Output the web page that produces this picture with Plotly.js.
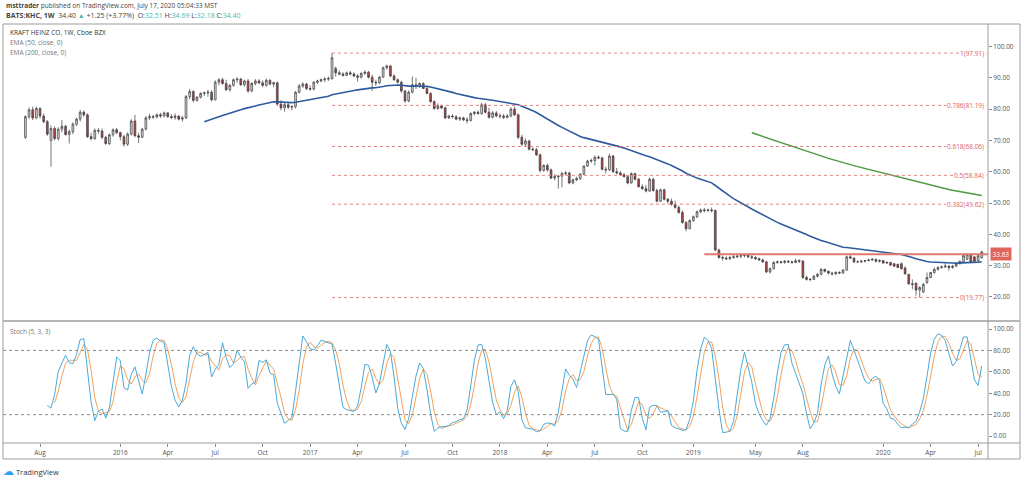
<!DOCTYPE html>
<html><head><meta charset="utf-8">
<script src="https://cdn.plot.ly/plotly-3.0.1.min.js"></script>
<style>html,body{margin:0;padding:0;background:#fff}#chart{width:1024px;height:480px}</style>
</head><body><div id="chart"></div>
<script>
// Weekly bars, first bar week of 2015-07-06
const firstWeek = '2015-07-06';
const open = [71.0,77.6,79.8,77.2,80.2,77.8,76.0,70.0,73.8,70.6,73.6,74.5,71.9,72.8,75.2,76.8,79.0,78.2,71.2,70.6,73.2,73.0,71.0,69.0,71.8,73.4,
72.5,71.2,68.8,72.0,76.2,71.5,71.0,73.6,77.2,77.6,77.5,78.2,77.8,78.8,77.6,77.3,77.8,76.8,77.2,84.0,85.6,82.8,83.8,85.0,85.2,85.4,83.0,88.6,89.4,88.2,86.2,87.6,89.4,89.6,87.8,89.0,85.8,88.2,89.0,88.4,87.6,89.2,88.0,88.4,81.6,80.4,81.4,80.6,80.8,85.4,87.4,88.0,
86.6,86.4,88.6,89.0,89.4,89.6,89.8,93.0,91.6,91.2,90.8,91.6,91.2,90.6,90.2,91.4,91.8,90.2,88.6,88.4,90.2,93.2,93.8,90.6,89.4,88.6,85.8,82.6,85.4,87.8,87.2,88.2,86.6,85.0,82.4,80.2,81.0,80.4,77.2,77.8,77.6,76.8,77.2,76.6,76.4,78.6,79.0,78.6,81.4,79.0,77.4,78.8,
77.8,77.8,77.4,77.8,80.0,78.2,71.0,68.8,69.8,67.2,67.0,65.4,60.4,62.0,60.6,58.0,58.4,58.6,59.4,59.6,56.4,57.4,57.8,59.2,61.8,63.4,63.6,64.6,64.4,60.8,60.6,65.0,60.0,59.6,59.0,58.4,56.4,59.4,57.6,55.2,54.6,53.8,57.6,54.0,50.6,54.2,51.2,50.6,49.6,48.6,47.0,43.8,41.8,
44.4,45.6,47.2,47.8,47.6,47.8,47.6,35.0,32.6,32.4,32.2,32.6,32.8,33.0,33.2,33.4,32.8,32.6,32.2,31.8,31.2,28.0,29.0,31.0,31.2,31.0,31.4,31.2,31.0,31.6,31.4,26.2,25.6,25.6,26.6,27.2,28.8,28.2,27.6,27.4,27.8,27.6,28.6,32.8,32.4,31.2,31.2,31.4,31.6,31.8,32.0,31.4,
31.6,30.8,31.0,30.6,30.4,30.6,29.2,27.2,24.2,24.4,22.2,21.6,24.6,26.2,27.8,28.8,29.4,29.6,29.8,29.4,29.8,30.6,31.2,32.0,33.5,32.8,31.6,32.51];
const high = [78.0,80.5,80.8,80.8,80.6,78.6,76.5,74.8,74.5,74.2,76.5,75.0,73.5,75.8,77.2,79.8,79.6,78.6,72.5,73.8,74.0,73.8,71.5,72.2,73.8,74.0,
72.8,71.8,72.6,76.8,78.2,72.5,74.0,77.8,78.5,78.2,78.6,78.8,79.2,79.0,78.4,78.6,78.0,77.8,84.5,86.5,86.0,84.2,85.4,85.6,86.2,86.0,89.2,89.8,90.0,89.4,88.0,89.8,90.2,90.0,89.4,89.6,88.6,89.6,89.6,89.2,89.8,89.6,88.8,88.8,82.8,82.0,82.2,81.2,85.8,88.0,88.6,88.4,
87.6,89.0,89.4,89.8,90.2,90.4,97.91,93.6,92.4,91.8,92.0,92.2,91.8,91.2,91.8,92.4,92.2,91.0,89.4,90.6,93.6,94.2,94.0,91.2,89.8,89.0,86.2,86.0,90.4,90.0,88.6,88.6,87.0,85.4,82.8,81.8,81.4,80.8,78.2,78.4,78.0,77.6,77.6,77.4,79.0,79.4,79.6,82.0,82.0,80.4,79.4,79.4,
78.6,78.4,78.4,80.6,80.8,78.6,71.8,70.6,70.2,67.8,67.6,65.8,62.4,62.6,61.0,59.2,58.8,60.0,60.2,60.0,57.8,58.4,59.6,62.0,63.8,64.2,65.2,65.2,64.8,61.6,65.8,65.4,61.2,60.2,59.6,58.8,59.8,59.6,58.0,56.0,55.8,58.2,58.0,54.6,54.6,54.6,51.6,51.4,50.8,49.2,47.6,44.2,44.8,
46.0,47.6,48.2,48.4,48.2,48.6,48.0,35.4,33.2,33.0,33.0,33.4,33.4,33.6,33.8,33.6,33.4,33.0,32.6,32.2,31.4,29.4,31.4,31.6,31.6,31.8,31.8,31.6,32.2,32.0,31.8,26.8,26.0,27.0,27.6,29.2,29.0,28.4,28.0,28.2,28.2,28.8,33.2,33.4,32.6,31.6,31.8,31.8,32.2,32.4,32.2,32.0,
31.8,31.4,31.2,30.8,30.6,31.0,29.8,27.4,25.6,24.6,23.4,24.4,27.8,28.0,29.4,29.8,30.0,30.8,30.2,30.2,30.8,31.6,33.6,33.9,33.8,33.0,33.4,34.69];
const low = [70.5,76.8,76.5,76.8,77.0,75.5,71.5,61.6,70.0,70.0,72.6,71.5,69.0,72.0,74.5,76.0,77.5,70.8,70.0,70.2,72.2,70.4,68.6,68.5,71.2,72.0,
70.0,68.0,68.2,71.6,71.0,69.2,70.8,73.2,76.5,76.8,77.0,77.2,77.4,77.2,76.8,76.6,76.4,76.0,76.8,83.2,82.2,82.4,83.4,84.2,84.0,82.5,82.8,87.6,87.8,85.8,85.6,87.2,88.4,87.4,87.2,85.2,85.4,87.6,88.0,87.0,87.2,87.6,87.0,81.0,79.6,79.2,80.0,79.6,80.2,85.0,86.8,86.0,
85.8,86.0,88.0,88.6,88.6,89.0,89.4,90.4,90.8,90.4,90.6,90.8,90.2,88.8,89.8,91.0,89.8,85.8,87.4,88.0,90.0,92.6,90.2,89.0,88.2,85.2,82.0,82.2,85.0,86.4,86.8,86.4,84.8,82.0,79.8,79.8,80.0,76.8,76.8,77.0,76.4,76.2,76.2,75.4,76.0,78.0,78.2,78.2,78.6,77.0,77.0,77.4,
77.0,76.8,77.0,77.4,77.8,70.4,68.2,68.2,66.8,66.6,65.0,59.8,60.0,60.0,57.6,57.2,54.6,55.0,58.8,56.0,56.0,57.0,57.4,59.0,61.6,62.8,62.0,64.0,60.4,59.4,60.2,59.6,59.2,58.6,58.2,56.0,56.2,57.2,55.0,54.2,53.4,53.6,53.6,50.2,50.4,50.8,49.8,49.2,48.2,46.6,43.4,41.0,41.6,
44.0,45.2,46.8,47.0,47.2,47.0,34.6,32.2,31.6,31.8,31.8,32.2,32.4,32.4,32.6,32.4,32.0,31.8,31.6,30.8,27.6,27.4,28.8,30.6,30.6,30.6,30.8,30.6,30.8,30.8,25.8,25.2,25.0,25.4,26.2,27.0,27.8,27.2,26.8,27.0,27.4,27.4,28.4,32.2,30.8,30.8,30.8,31.0,31.4,31.6,31.0,31.0,
30.6,30.6,29.8,29.6,29.2,28.8,27.0,23.8,22.4,20.4,19.77,21.2,24.2,26.0,27.4,28.4,29.0,29.2,28.4,29.0,29.6,30.4,30.8,31.8,30.8,31.0,31.4,32.18];
const close = [77.6,79.8,77.2,80.2,77.8,76.0,72.0,73.8,70.6,73.6,74.5,71.9,72.8,75.2,76.8,79.0,78.2,71.2,70.6,73.2,73.0,71.0,69.0,71.8,73.4,72.5,
71.2,68.8,72.0,76.2,71.5,71.0,73.6,77.2,77.6,77.5,78.2,77.8,78.8,77.6,77.3,77.8,76.8,77.2,84.0,85.6,82.8,83.8,85.0,85.2,85.4,83.0,88.6,89.4,88.2,86.2,87.6,89.4,89.6,87.8,89.0,85.8,88.2,89.0,88.4,87.6,89.2,88.0,88.4,81.6,80.4,81.4,80.6,80.8,85.4,87.4,88.0,86.6,
86.4,88.6,89.0,89.4,89.6,89.8,96.4,91.6,91.2,90.8,91.6,91.2,90.6,90.2,91.4,91.8,90.2,88.6,88.4,90.2,93.2,93.8,90.6,89.4,88.6,85.8,82.6,85.4,87.8,87.2,88.2,86.6,85.0,82.4,80.2,81.0,80.4,77.2,77.8,77.6,76.8,77.2,76.6,76.4,78.6,79.0,78.6,81.4,79.0,77.4,78.8,77.8,
77.8,77.4,77.8,80.0,78.2,71.0,68.8,69.8,67.2,67.0,65.4,60.4,62.0,60.6,58.0,58.4,58.6,59.4,59.6,56.4,57.4,57.8,59.2,61.8,63.4,63.6,64.6,64.4,60.8,60.6,65.0,60.0,59.6,59.0,58.4,56.4,59.4,57.6,55.2,54.6,53.8,57.6,54.0,50.6,54.2,51.2,50.6,49.6,48.6,47.0,43.8,41.8,44.4,
45.6,47.2,47.8,47.6,47.8,47.6,35.0,32.6,32.4,32.2,32.6,32.8,33.0,33.2,33.4,32.8,32.6,32.2,31.8,31.2,28.0,29.0,31.0,31.2,31.0,31.4,31.2,31.0,31.6,31.4,26.2,25.6,25.6,26.6,27.2,28.8,28.2,27.6,27.4,27.8,27.6,28.6,32.8,32.4,31.2,31.2,31.4,31.6,31.8,32.0,31.4,31.6,
30.8,31.0,30.2,29.8,29.4,29.0,27.4,24.2,24.0,22.2,23.0,24.0,26.2,27.8,28.8,29.4,29.6,29.8,29.4,29.8,30.6,31.4,33.2,33.5,31.2,31.4,33.15,34.40];

const fibLevels = [97.91, 81.19, 68.06, 58.84, 49.62, 19.77];
const fibRatios = ['1', '0.786', '0.618', '0.5', '0.382', '0'];
const fibStart = '2017-02-13';
const hLineLevel = 33.63;
const hLineStart = '2019-01-28';
const priceTicks = [20, 30, 40, 50, 60, 70, 80, 90, 100];
const stochTicks = [0, 20, 40, 60, 80, 100];
const dateTickVals = ['2015-08-03','2016-01-04','2016-04-04','2016-07-04','2016-10-03','2017-01-02','2017-04-03','2017-07-03','2017-10-02','2018-01-01','2018-04-02','2018-07-02','2018-10-01','2019-01-07','2019-05-06','2019-08-05','2020-01-06','2020-04-06','2020-07-06'];
const dateTickText = ['Aug','2016','Apr','Jul','Oct','2017','Apr','Jul','Oct','2018','Apr','Jul','Oct','2019','May','Aug','2020','Apr','Jul'];

const t0 = Date.UTC(2015, 6, 6);
const dates = close.map((_, i) => new Date(t0 + i * 7 * 86400000).toISOString().slice(0, 10));
const xRange = ['2015-05-24', '2020-07-25'];
const lastDate = '2020-07-22';

function ema(src, n) {
  const out = src.map(() => null);
  let s = 0; for (let i = 0; i < n; i++) s += src[i];
  let e = s / n; out[n - 1] = e; const a = 2 / (n + 1);
  for (let i = n; i < src.length; i++) { e = a * src[i] + (1 - a) * e; out[i] = e; }
  return out;
}
function sma(src, n) {
  return src.map((v, i) => {
    if (i < n - 1) return null; let s = 0;
    for (let j = i - n + 1; j <= i; j++) { if (src[j] == null) return null; s += src[j]; }
    return s / n;
  });
}
function stochRaw(c, h, l, n) {
  return c.map((v, i) => {
    if (i < n - 1) return null; let hh = -Infinity, ll = Infinity;
    for (let j = i - n + 1; j <= i; j++) { hh = Math.max(hh, h[j]); ll = Math.min(ll, l[j]); }
    return hh === ll ? 0 : 100 * (v - ll) / (hh - ll);
  });
}
const ema50 = ema(close, 50);
const ema200 = ema(close, 200);
const kLine = sma(stochRaw(close, high, low, 5), 3);
const dLine = sma(kLine, 3);

const W = 1024, H = 480;
const px = v => v / W, py = v => 1 - v / H;
const FF = 'Open Sans, sans-serif';
const axFont = {family: FF, size: 6.5, color: '#555'};

const traces = [
  {type: 'candlestick', x: dates, open: open, high: high, low: low, close: close, xaxis: 'x', yaxis: 'y',
   increasing: {line: {color: '#3c3c3c', width: 0.7}, fillcolor: '#d6d6d6'},
   decreasing: {line: {color: '#3c3c3c', width: 0.7}, fillcolor: '#b04545'},
   whiskerwidth: 0, hoverinfo: 'skip', showlegend: false},
  {type: 'scatter', mode: 'lines', x: dates, y: ema50, line: {color: '#2e5b9d', width: 1.6}, xaxis: 'x', yaxis: 'y', hoverinfo: 'skip', showlegend: false},
  {type: 'scatter', mode: 'lines', x: dates, y: ema200, line: {color: '#4c9a3f', width: 1.4}, xaxis: 'x', yaxis: 'y', hoverinfo: 'skip', showlegend: false},
  {type: 'scatter', mode: 'lines', x: dates, y: dLine, line: {color: '#f0a35e', width: 1}, xaxis: 'x2', yaxis: 'y2', hoverinfo: 'skip', showlegend: false},
  {type: 'scatter', mode: 'lines', x: dates, y: kLine, line: {color: '#49a9d8', width: 1}, xaxis: 'x2', yaxis: 'y2', hoverinfo: 'skip', showlegend: false}
];

const shapes = [];
fibLevels.forEach(l => shapes.push({type: 'line', xref: 'x', yref: 'y', x0: fibStart, x1: lastDate, y0: l, y1: l,
  line: {color: '#e38585', width: 1, dash: '3px,3px'}}));
shapes.push({type: 'line', xref: 'x', yref: 'y', x0: hLineStart, x1: xRange[1], y0: hLineLevel, y1: hLineLevel, line: {color: '#e0786e', width: 2}});
[80, 20].forEach(l => shapes.push({type: 'line', xref: 'paper', yref: 'y2', x0: px(3), x1: px(988), y0: l, y1: l,
  line: {color: '#8a8a8a', width: 1, dash: '3px,3px'}}));
// frame
shapes.push({type: 'rect', xref: 'paper', yref: 'paper', x0: px(3), x1: px(1020), y0: py(459), y1: py(24), line: {color: '#9c9c9c', width: 1}});
shapes.push({type: 'line', xref: 'paper', yref: 'paper', x0: px(3), x1: px(1020), y0: py(321), y1: py(321), line: {color: '#b5b5b5', width: 2}});
shapes.push({type: 'line', xref: 'paper', yref: 'paper', x0: px(3), x1: px(1020), y0: py(443), y1: py(443), line: {color: '#9c9c9c', width: 1}});
shapes.push({type: 'line', xref: 'paper', yref: 'paper', x0: px(988), x1: px(988), y0: py(459), y1: py(24), line: {color: '#9c9c9c', width: 1}});

const teal = '#4db6ac';
const annotations = [
  {xref: 'paper', yref: 'paper', x: px(4), y: py(6), xanchor: 'left', yanchor: 'middle', showarrow: false,
   text: '<b>msttrader</b> published on TradingView.com, July 17, 2020 05:04:33 MST', font: {family: FF, size: 6.5, color: '#444'}},
  {xref: 'paper', yref: 'paper', x: px(4), y: py(15), xanchor: 'left', yanchor: 'middle', showarrow: false,
   text: '<b>BATS:KHC, 1W</b>  34.40 <span style="color:' + teal + '">▲</span> +1.25 (+3.77%)  O:<span style="color:' + teal + '">32.51</span> H:<span style="color:' + teal + '">34.69</span> L:<span style="color:' + teal + '">32.18</span> C:<span style="color:' + teal + '">34.40</span>',
   font: {family: FF, size: 7, color: '#444'}},
  {xref: 'paper', yref: 'paper', x: px(8), y: py(33), xanchor: 'left', yanchor: 'middle', showarrow: false,
   text: 'KRAFT HEINZ CO, 1W, Cboe BZX', font: {family: FF, size: 6.5, color: '#333'}},
  {xref: 'paper', yref: 'paper', x: px(8), y: py(42), xanchor: 'left', yanchor: 'middle', showarrow: false,
   text: 'EMA (50, close, 0)', font: {family: FF, size: 6.5, color: '#777'}},
  {xref: 'paper', yref: 'paper', x: px(8), y: py(52), xanchor: 'left', yanchor: 'middle', showarrow: false,
   text: 'EMA (200, close, 0)', font: {family: FF, size: 6.5, color: '#777'}},
  {xref: 'paper', yref: 'paper', x: px(8), y: py(331), xanchor: 'left', yanchor: 'middle', showarrow: false,
   text: 'Stoch (5, 3, 3)', font: {family: FF, size: 6.5, color: '#777'}},
  {xref: 'paper', yref: 'y', x: px(990), y: hLineLevel, xanchor: 'left', yanchor: 'middle', showarrow: false,
   text: hLineLevel.toFixed(2), bgcolor: '#e0665c', borderpad: 1.5, font: {family: FF, size: 6.5, color: '#fff'}},
  {xref: 'paper', yref: 'paper', x: px(1), y: py(470), xanchor: 'left', yanchor: 'middle', showarrow: false,
   text: '<span style="color:#2f9ff0;font-size:11px">☁</span> TradingView', font: {family: FF, size: 7.5, color: '#333'}}
];
fibLevels.forEach((l, k) => annotations.push({xref: 'paper', yref: 'y', x: px(985), y: l, xanchor: 'right', yanchor: 'middle', showarrow: false,
  text: fibRatios[k] + '(' + l.toFixed(2) + ')', bgcolor: '#fff', borderpad: 0, font: {family: FF, size: 6.5, color: '#e06060'}}));

const layout = {
  width: W, height: H, margin: {l: 0, r: 0, t: 0, b: 0}, paper_bgcolor: '#fff', plot_bgcolor: '#fff',
  showlegend: false, hovermode: false,
  xaxis: {domain: [px(3), px(988)], range: xRange, type: 'date', anchor: 'y', showticklabels: false, showgrid: false, zeroline: false,
          rangeslider: {visible: false}, ticks: ''},
  yaxis: {domain: [py(321), py(24)], range: [12.3, 107.2], side: 'right', anchor: 'x', tickvals: priceTicks,
          ticktext: priceTicks.map(v => v.toFixed(2)), showgrid: false, zeroline: false, ticks: 'outside', ticklen: 3,
          tickcolor: '#888', tickfont: axFont},
  xaxis2: {domain: [px(3), px(988)], range: xRange, type: 'date', anchor: 'y2', tickvals: dateTickVals, ticktext: dateTickText,
           showgrid: false, zeroline: false, ticks: 'outside', ticklen: 3, tickcolor: '#888', tickfont: axFont},
  yaxis2: {domain: [py(443), py(321)], range: [-6.5, 107.5], side: 'right', anchor: 'x2', tickvals: stochTicks,
           ticktext: stochTicks.map(v => v.toFixed(2)), showgrid: false, zeroline: false, ticks: 'outside', ticklen: 3,
           tickcolor: '#888', tickfont: axFont},
  shapes: shapes, annotations: annotations
};
Plotly.newPlot('chart', traces, layout, {displayModeBar: false, staticPlot: true});
</script></body></html>
